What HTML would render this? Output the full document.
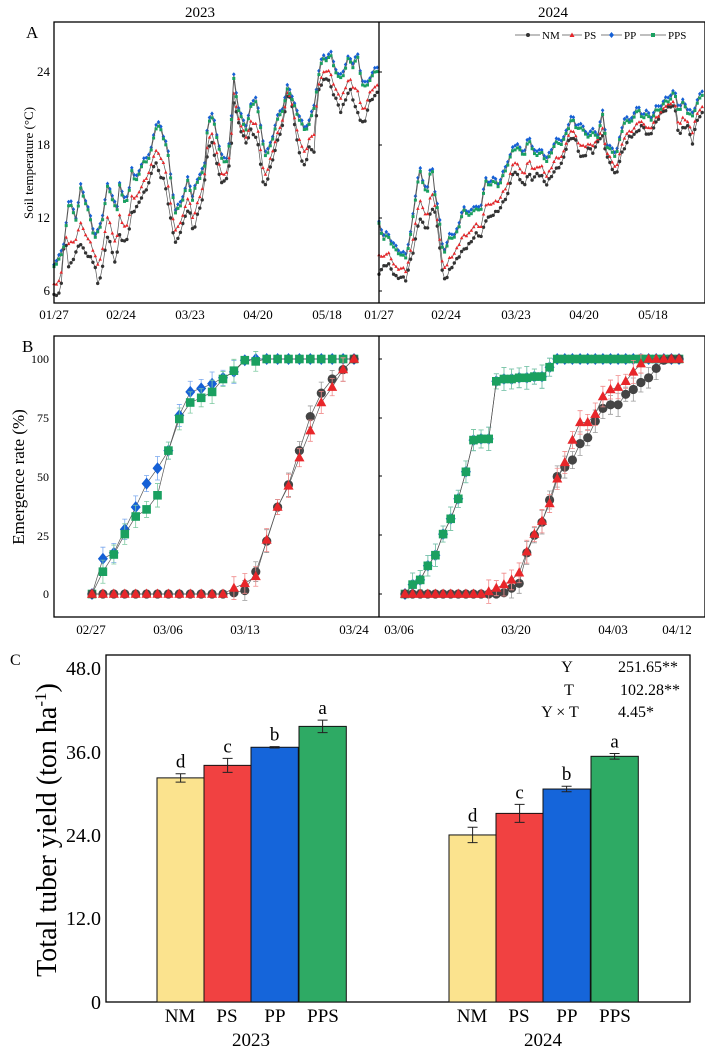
<!DOCTYPE html>
<html><head><meta charset="utf-8"><style>
html,body{margin:0;padding:0;background:#fff}
svg{display:block}
text{font-family:"Liberation Serif",serif;fill:#000}
</style></head><body>
<svg id="s" width="705" height="1054" viewBox="0 0 705 1054" xmlns="http://www.w3.org/2000/svg">
<rect width="705" height="1054" fill="#fff"/>
<g id="d"></g>
<rect x="54" y="22" width="651" height="281" fill="none" stroke="#000" stroke-width="1.3"/>
<line x1="379" y1="22" x2="379" y2="303" stroke="#000" stroke-width="1.3"/>
<text x="200" y="17" font-size="15" text-anchor="middle">2023</text>
<text x="553" y="17" font-size="15" text-anchor="middle">2024</text>
<text x="26" y="38" font-size="17">A</text>
<g font-size="13" text-anchor="end">
<text x="50" y="76">24</text><text x="50" y="149">18</text><text x="50" y="222">12</text><text x="50" y="295">6</text>
</g>
<text transform="translate(33,163) rotate(-90)" font-size="13" text-anchor="middle">Soil temperature (°C)</text>
<g font-size="13" text-anchor="middle">
<text x="54" y="319">01/27</text><text x="121" y="319">02/24</text><text x="190" y="319">03/23</text><text x="258" y="319">04/20</text><text x="327" y="319">05/18</text>
<text x="379" y="319">01/27</text><text x="446" y="319">02/24</text><text x="516" y="319">03/23</text><text x="584" y="319">04/20</text><text x="653" y="319">05/18</text>
</g>
<g font-size="11">
<line x1="515" y1="35" x2="540" y2="35" stroke="#555" stroke-width="0.8"/><circle cx="528" cy="35" r="2" fill="#333"/><text x="542" y="39">NM</text>
<line x1="562" y1="35" x2="582" y2="35" stroke="#555" stroke-width="0.8"/><path d="M572,32.5 L574.5,37 L569.5,37Z" fill="#e8262a"/><text x="584" y="39">PS</text>
<line x1="601" y1="35" x2="622" y2="35" stroke="#555" stroke-width="0.8"/><path d="M611.5,32 L614,35 L611.5,38 L609,35Z" fill="#1560d6"/><text x="624" y="39">PP</text>
<line x1="640" y1="35" x2="666" y2="35" stroke="#555" stroke-width="0.8"/><rect x="651" y="33" width="4" height="4" fill="#1aa060"/><text x="668" y="39">PPS</text>
</g>
<rect x="54" y="336" width="651" height="281" fill="none" stroke="#000" stroke-width="1.3"/>
<line x1="379" y1="336" x2="379" y2="617" stroke="#000" stroke-width="1.3"/>
<text x="22" y="352" font-size="17">B</text>
<g font-size="12" text-anchor="end">
<text x="49" y="363">100</text><text x="49" y="422">75</text><text x="49" y="481">50</text><text x="49" y="540">25</text><text x="49" y="598">0</text>
</g>
<text transform="translate(24,477) rotate(-90)" font-size="17" text-anchor="middle">Emergence rate (%)</text>
<g font-size="13" text-anchor="middle">
<text x="91" y="634">02/27</text><text x="168" y="634">03/06</text><text x="245" y="634">03/13</text><text x="354" y="634">03/24</text>
<text x="399" y="634">03/06</text><text x="516" y="634">03/20</text><text x="613" y="634">04/03</text><text x="677" y="634">04/12</text>
</g>
<text x="10" y="665" font-size="16">C</text>
<rect x="106" y="655" width="584" height="347" fill="none" stroke="#000" stroke-width="1.3"/>
<g font-size="20" text-anchor="end">
<text x="101" y="675">48.0</text><text x="101" y="759">36.0</text><text x="101" y="842">24.0</text><text x="101" y="925">12.0</text><text x="101" y="1009">0</text>
</g>
<text transform="translate(56,830) rotate(-90)" font-size="28" text-anchor="middle">Total tuber yield (ton ha<tspan font-size="17" dy="-10">-1</tspan><tspan dy="10">)</tspan></text>
<g font-size="16">
<text x="567" y="672" text-anchor="middle">Y</text><text x="618" y="672">251.65**</text>
<text x="569" y="695" text-anchor="middle">T</text><text x="620" y="695">102.28**</text>
<text x="560" y="717" text-anchor="middle">Y × T</text><text x="618" y="717">4.45*</text>
</g>
<g font-size="19" text-anchor="middle">
<text x="180" y="1022">NM</text><text x="227" y="1022">PS</text><text x="275" y="1022">PP</text><text x="323" y="1022">PPS</text>
<text x="472" y="1022">NM</text><text x="519" y="1022">PS</text><text x="567" y="1022">PP</text><text x="615" y="1022">PPS</text>
<text x="251" y="1046">2023</text><text x="543" y="1046">2024</text>
</g>
<g id="c"></g>
</svg>
<script>
var out=[];
function ip(keys,zx){
 for(var i=0;i<keys.length-1;i++){var a=keys[i],b=keys[i+1];if(zx>=a[0]&&zx<=b[0]){var t=(zx-a[0])/(b[0]-a[0]||1);return a[1]+t*(b[1]-a[1]);}}
 return zx<keys[0][0]?keys[0][1]:keys[keys.length-1][1];
}
var G23=[[120,800],[130,780],[140,760],[147,675],[153,615],[160,620],[170,665],[180,560],[190,610],[200,650],[210,720],[220,690],[230,650],[240,550],[250,600],[260,640],[265,545],[275,610],[285,595],[293,515],[300,545],[310,520],[320,485],[330,480],[337,450],[345,385],[355,380],[365,420],[372,445],[380,540],[390,640],[400,620],[410,585],[418,540],[428,600],[435,560],[445,530],[455,505],[462,370],[470,350],[478,380],[485,430],[495,490],[505,480],[513,400],[520,235],[530,330],[538,360],[548,390],[558,320],[568,300],[575,345],[585,430],[592,480],[600,440],[610,400],[620,345],[630,330],[640,260],[650,300],[660,340],[670,370],[678,395],[688,370],[698,330],[708,230],[718,175],[728,180],[735,165],[745,210],[755,240],[765,220],[775,175],[785,200],[795,170],[805,250],[815,265],[825,230],[837,215]];
var N23=[[120,880],[128,890],[135,870],[145,690],[150,800],[160,790],[170,750],[180,730],[190,760],[200,770],[212,800],[218,860],[228,800],[240,700],[250,760],[258,795],[265,700],[275,730],[285,710],[293,640],[305,620],[315,590],[325,570],[335,530],[345,480],[355,525],[365,540],[372,590],[382,680],[392,735],[402,690],[412,650],[420,620],[430,700],[440,640],[452,590],[460,470],[470,420],[478,470],[485,510],[495,555],[505,530],[513,470],[520,305],[530,365],[538,400],[548,430],[558,390],[568,410],[575,440],[585,550],[592,555],[600,510],[610,460],[620,410],[630,370],[640,275],[650,320],[660,420],[670,480],[678,500],[688,440],[698,460],[708,270],[718,245],[728,230],[738,270],[748,300],[758,335],[768,300],[778,265],[790,320],[800,355],[810,375],[820,310],[837,280]];
var G24=[[843,670],[853,720],[863,705],[873,740],[883,755],[893,765],[903,775],[913,705],[920,640],[933,505],[940,550],[950,580],[960,495],[968,590],[975,640],[985,760],[993,745],[1000,715],[1010,710],[1020,690],[1030,625],[1040,650],[1050,635],[1060,630],[1070,625],[1080,545],[1090,555],[1100,545],[1110,560],[1120,525],[1130,490],[1140,455],[1150,440],[1165,470],[1175,420],[1185,450],[1195,470],[1205,455],[1215,490],[1225,460],[1235,430],[1250,430],[1262,395],[1272,350],[1280,385],[1290,380],[1300,400],[1310,410],[1320,400],[1330,410],[1340,345],[1350,440],[1360,455],[1370,470],[1380,410],[1390,360],[1400,370],[1410,350],[1420,330],[1430,355],[1440,345],[1450,360],[1460,330],[1470,325],[1480,305],[1490,300],[1500,275],[1510,340],[1520,305],[1530,340],[1540,350],[1550,310],[1565,280]];
var N24=[[843,820],[853,800],[863,790],[873,815],[883,835],[893,830],[903,840],[913,780],[920,750],[933,650],[940,670],[950,690],[960,620],[968,640],[975,700],[985,835],[993,835],[1000,810],[1010,790],[1020,770],[1030,750],[1040,740],[1050,720],[1060,700],[1070,710],[1080,660],[1090,650],[1100,640],[1110,630],[1120,605],[1130,580],[1140,520],[1150,520],[1165,560],[1175,520],[1185,540],[1195,520],[1205,530],[1215,555],[1225,530],[1235,510],[1250,490],[1262,430],[1272,410],[1280,420],[1290,470],[1300,470],[1310,440],[1320,460],[1330,420],[1340,410],[1350,470],[1360,500],[1370,530],[1380,470],[1390,440],[1400,410],[1410,405],[1420,390],[1430,375],[1440,410],[1450,395],[1460,365],[1470,340],[1480,330],[1490,320],[1500,315],[1510,410],[1520,380],[1530,380],[1540,430],[1550,360],[1565,335]];
function mk(type,x,y,s,col){
 if(type=='c')return '<circle cx="'+x.toFixed(1)+'" cy="'+y.toFixed(1)+'" r="'+s+'" fill="'+col+'"/>';
 if(type=='t')return '<path d="M'+x.toFixed(1)+','+(y-s*1.2).toFixed(1)+' L'+(x+s*1.1).toFixed(1)+','+(y+s*0.8).toFixed(1)+' L'+(x-s*1.1).toFixed(1)+','+(y+s*0.8).toFixed(1)+'Z" fill="'+col+'"/>';
 if(type=='d')return '<path d="M'+x.toFixed(1)+','+(y-s*1.2).toFixed(1)+' L'+(x+s).toFixed(1)+','+y.toFixed(1)+' L'+x.toFixed(1)+','+(y+s*1.2).toFixed(1)+' L'+(x-s).toFixed(1)+','+y.toFixed(1)+'Z" fill="'+col+'"/>';
 return '<rect x="'+(x-s).toFixed(1)+'" y="'+(y-s).toFixed(1)+'" width="'+(2*s)+'" height="'+(2*s)+'" fill="'+col+'"/>';
}
function series(pts,type,s,col){
 var p='M'+pts.map(function(q){return q[0].toFixed(1)+','+q[1].toFixed(1)}).join(' L');
 var h='<path d="'+p+'" fill="none" stroke="#555" stroke-width="0.7"/>';
 pts.forEach(function(q){h+=mk(type,q[0],q[1],s,col)});
 return h;
}
function panelA(x0,G,N){
 var g=[],b=[],n=[],r=[];
 for(var d=0;d<134;d++){
  var x=x0+d*2.43; if(x>704)x=704;
  var zx=x*2.224;
  var gy=ip(G,zx)/3+1.2*Math.sin(d*1.7), ny=ip(N,zx)/3+1.2*Math.sin(d*2.3+1);
  var by=gy-2-2.2*Math.abs(Math.sin(d*0.7));
  g.push([x,gy]);b.push([x,by]);n.push([x,ny]);r.push([x,ny+0.38*(gy-ny)+0.8*Math.sin(d*1.1)]);
 }
 return series(n,'c',1.7,'#333')+series(r,'t',1.6,'#e8262a')+series(b,'d',1.8,'#1560d6')+series(g,'s',1.5,'#1aa060');
}
out.push(panelA(54,G23,N23));
out.push(panelA(379,G24,N24));
function yB(v){return 594-v*2.35;}
function panelB(x0,dx,data){
 var h='';
 var order=[['PP','d',5,'#1560d6','#7aa8ee'],['PPS','s',4.3,'#1aa060','#7cc9a0'],['NM','c',4.6,'#444','#999'],['PS','t',4.6,'#e8262a','#f08a8a']];
 order.forEach(function(o){
  var v=data[o[0]];var pts=v.map(function(a,i){return [x0+i*dx,yB(a)]});
  v.forEach(function(a,i){var e=(a>0.5&&a<99.5)?3+2*Math.abs(Math.sin(i*1.3)):0;if(e>0){var x=x0+i*dx;h+='<path d="M'+x+','+yB(a+e)+' V'+yB(a-e)+' M'+(x-2.5)+','+yB(a+e)+' h5 M'+(x-2.5)+','+yB(a-e)+' h5" stroke="'+o[4]+'" stroke-width="0.8" fill="none"/>';}});
  h+=series(pts,o[1],o[2],o[3]);
 });
 return h;
}
function fill(a,n,v){while(a.length<n)a.push(v);return a;}
var L={PP:fill([0,15,17.5,27.5,37,47,53.5,61,76,86,87.5,89.5,92,94.5,99.5],25,100),
PPS:fill([0,9.5,16.8,25.5,33,36,42,61,74.5,81.5,83.5,86,91.5,95,99.5,99],25,100),
NM:[0,0,0,0,0,0,0,0,0,0,0,0,0,0.5,1.5,9.5,22.5,37,46.5,61,75.5,85.5,91.5,95.5,100],
PS:[0,0,0,0,0,0,0,0,0,0,0,0,0,2.5,4.5,7.5,23,37,46,58,69.5,81.5,88,95.5,100]};
out.push(panelB(92,(354-92)/24,L));
var gr=fill([0,4,6,12,16.5,25.5,32,40.5,52,65.5,66,66,90.5,91.5,91.5,92,92,92.5,92.5,96.5],37,100);
var R={PP:gr,PPS:gr,
NM:fill([0,0,0,0,0,0,0,0,0,0,0,0,0,0.5,2.5,4.5,17.5,25,30.5,40,50,54,57,64,66.5,73.5,79,80.5,80.5,85,87,90,92,96,99.5],37,100),
PS:fill([0,0,0,0,0,0,0,0,0,0,0,1,2.5,4,6,9,18,25.5,31,38.5,49,56,65.5,73,73,76.5,84,87,88,90.5,94.5,98],37,100)};
out.push(panelB(405,(679-405)/36,R));
[72,145,218,291].forEach(function(y){out.push('<line x1="379" y1="'+y+'" x2="382" y2="'+y+'" stroke="#000"/>')});
[359,418,476,535,594].forEach(function(y){out.push('<line x1="379" y1="'+y+'" x2="382" y2="'+y+'" stroke="#000"/>')});
document.getElementById('d').innerHTML=out.join('');
var c='';
function yC(v){return 1002-v*6.96;}
var bars=[[157,32.2,0.6,'#fbe38e','d'],[204,34.0,1.0,'#f14141','c'],[251,36.6,0.1,'#1565da','b'],[299,39.6,0.9,'#2eaa64','a'],
[449,24.0,1.1,'#fbe38e','d'],[496,27.1,1.3,'#f14141','c'],[543,30.6,0.4,'#1565da','b'],[591,35.3,0.4,'#2eaa64','a']];
bars.forEach(function(b){
 var y=yC(b[1]);c+='<rect x="'+b[0]+'" y="'+y+'" width="47.3" height="'+(1002-y)+'" fill="'+b[3]+'" stroke="#111" stroke-width="1"/>';
 var cx=b[0]+23.6,t=yC(b[1]+b[2]),bo=yC(b[1]-b[2]);
 c+='<path d="M'+cx+','+t+' V'+bo+' M'+(cx-5)+','+t+' h10 M'+(cx-5)+','+bo+' h10" stroke="#222" stroke-width="1" fill="none"/>';
 c+='<text x="'+cx+'" y="'+(t-6)+'" font-size="19" text-anchor="middle">'+b[4]+'</text>';
});
document.getElementById('c').innerHTML=c;
</script>
</body></html>
